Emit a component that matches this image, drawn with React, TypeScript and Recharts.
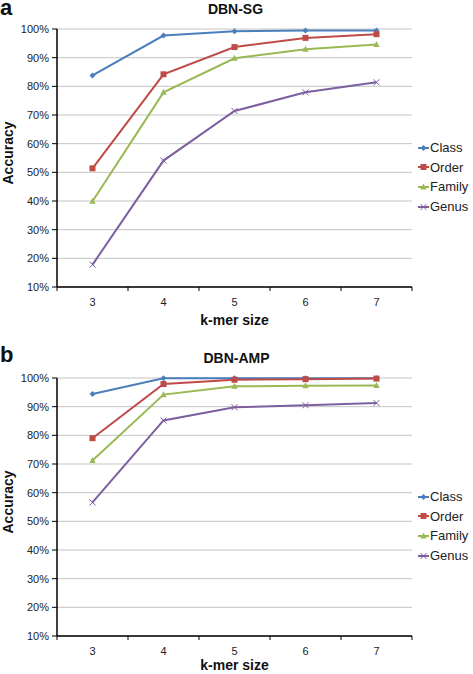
import React from "react";
import { LineChart, Line, XAxis, YAxis, CartesianGrid, Legend } from "recharts";

const KMER = [3, 4, 5, 6, 7];
const KMER_TICKS = [2.5, 3, 3.5, 4, 4.5, 5, 5.5, 6, 6.5, 7, 7.5];
const Y_TICKS = [10, 20, 30, 40, 50, 60, 70, 80, 90, 100];
const SERIES = ["Class", "Order", "Family", "Genus"];
const COLORS = ["#4A7EBB", "#BE4B48", "#98B954", "#7D5FA0"];

// DBN-SG accuracy (%)
const SG_CLASS = [83.8, 97.7, 99.2, 99.5, 99.5];
const SG_ORDER = [51.4, 84.2, 93.7, 96.9, 98.2];
const SG_FAMILY = [39.9, 77.9, 89.8, 92.9, 94.6];
const SG_GENUS = [17.8, 54.1, 71.4, 77.9, 81.4];

// DBN-AMP accuracy (%)
const AMP_CLASS = [94.4, 99.9, 99.9, 99.9, 99.9];
const AMP_ORDER = [79.0, 97.9, 99.4, 99.6, 99.8];
const AMP_FAMILY = [71.2, 94.2, 97.1, 97.3, 97.4];
const AMP_GENUS = [56.6, 85.2, 89.8, 90.5, 91.3];

const FONT = "'Liberation Sans', Arial, sans-serif";

function buildRows(cls: number[], ord: number[], fam: number[], gen: number[]) {
  return KMER.map((k, i) => ({
    k,
    Class: cls[i],
    Order: ord[i],
    Family: fam[i],
    Genus: gen[i],
  }));
}

const sgData = buildRows(SG_CLASS, SG_ORDER, SG_FAMILY, SG_GENUS);
const ampData = buildRows(AMP_CLASS, AMP_ORDER, AMP_FAMILY, AMP_GENUS);

function Marker({ name, cx, cy, color }: { name: string; cx: number; cy: number; color: string }) {
  if (cx == null || cy == null) return null;
  if (name === "Class") {
    const r = 3;
    return <path d={`M${cx},${cy - r}L${cx + r},${cy}L${cx},${cy + r}L${cx - r},${cy}Z`} fill={color} />;
  }
  if (name === "Order") {
    return <rect x={cx - 3} y={cy - 3} width={6} height={6} fill={color} />;
  }
  if (name === "Family") {
    return <path d={`M${cx},${cy - 3.5}L${cx + 3.2},${cy + 2.5}L${cx - 3.2},${cy + 2.5}Z`} fill={color} />;
  }
  return (
    <path
      d={`M${cx - 3},${cy - 3}L${cx + 3},${cy + 3}M${cx - 3},${cy + 3}L${cx + 3},${cy - 3}`}
      stroke={color}
      strokeWidth={1}
    />
  );
}

// integer ticks get a label, half-step ticks get a tick mark on the category boundary
function KmerTick(props: any) {
  const { x, y, payload } = props;
  const v = payload.value;
  if (Number.isInteger(v)) {
    return (
      <text x={x} y={y} dy="0.71em" textAnchor="middle" fontSize={11} fill="#222" fontFamily={FONT}>
        {v}
      </text>
    );
  }
  return <line x1={x} x2={x} y1={y - 11} y2={y - 7} stroke="#000" strokeWidth={1} />;
}

function LegendBox() {
  return (
    <div style={{ fontFamily: FONT, fontSize: 13, color: "#222" }}>
      {SERIES.map((s, i) => (
        <div key={s} style={{ display: "flex", alignItems: "center", height: 19.6 }}>
          <svg width={11} height={10} style={{ marginRight: 1 }}>
            <line x1={0} x2={11} y1={5} y2={5} stroke={COLORS[i]} strokeWidth={2} />
            <Marker name={s} cx={5.5} cy={5} color={COLORS[i]} />
          </svg>
          <span>{s}</span>
        </div>
      ))}
    </div>
  );
}

function Panel({
  data,
  height,
  top,
  legendTop,
  labelGap,
}: {
  data: any[];
  height: number;
  top: number;
  legendTop: number;
  labelGap: number;
}) {
  const xHeight = height - top - 258;
  return (
    <LineChart width={473} height={height} data={data} margin={{ top, right: 61, left: 0, bottom: 0 }}>
      <CartesianGrid horizontal vertical={false} stroke="#C4C4C4" strokeWidth={1} />
      <XAxis
        dataKey="k"
        type="number"
        domain={[2.5, 7.5]}
        ticks={KMER_TICKS}
        interval={0}
        height={xHeight}
        tickLine={false}
        tickSize={3}
        tickMargin={8}
        tick={<KmerTick />}
        axisLine={{ stroke: "#000", strokeWidth: 1.5 }}
        label={(p: any) => {
          const vb = p.viewBox;
          return (
            <text
              x={vb.x + vb.width / 2}
              y={vb.y + labelGap}
              textAnchor="middle"
              fontSize={14}
              fontWeight="bold"
              fill="#111"
              fontFamily={FONT}
            >
              k-mer size
            </text>
          );
        }}
      />
      <YAxis
        type="number"
        domain={[10, 100]}
        ticks={Y_TICKS}
        interval={0}
        width={57}
        tickSize={5}
        tickMargin={3}
        tickFormatter={(v) => `${v}%`}
        tick={{ fontSize: 11, fill: "#222", fontFamily: FONT }}
        tickLine={{ stroke: "#000" }}
        axisLine={{ stroke: "#000", strokeWidth: 1.5 }}
        label={(p: any) => {
          const vb = p.viewBox;
          const cy = vb.y + vb.height / 2 - 5;
          return (
            <text
              x={13}
              y={cy}
              transform={`rotate(-90 13 ${cy})`}
              textAnchor="middle"
              fontSize={14}
              fontWeight="bold"
              fill="#111"
              fontFamily={FONT}
            >
              Accuracy
            </text>
          );
        }}
      />
      <Legend
        layout="vertical"
        align="center"
        verticalAlign="middle"
        content={() => <LegendBox />}
        wrapperStyle={{ left: 418, top: legendTop, width: 60 }}
      />
      {SERIES.map((s, i) => (
        <Line
          key={s}
          dataKey={s}
          stroke={COLORS[i]}
          strokeWidth={2}
          isAnimationActive={false}
          dot={(p: any) => <Marker key={`${s}-${p.index}`} name={s} cx={p.cx} cy={p.cy} color={COLORS[i]} />}
          activeDot={false}
        />
      ))}
    </LineChart>
  );
}

const titleStyle: React.CSSProperties = {
  position: "absolute",
  fontFamily: FONT,
  fontWeight: "bold",
  fontSize: 14,
  lineHeight: "16px",
  color: "#111",
  width: 473,
  textAlign: "center",
  left: 0,
};

const letterStyle: React.CSSProperties = {
  position: "absolute",
  left: 0,
  fontFamily: FONT,
  fontWeight: "bold",
  fontSize: 22,
  lineHeight: "22px",
  color: "#111",
};

export default function App() {
  return (
    <div style={{ position: "absolute", left: 0, top: 0, width: 473, height: 674, background: "#fff", overflow: "hidden" }}>
      <div style={{ position: "absolute", left: 0, top: 0 }}>
        <Panel data={sgData} height={330} top={29} legendTop={138} labelGap={37.5} />
      </div>
      <div style={{ position: "absolute", left: 0, top: 330 }}>
        <Panel data={ampData} height={344} top={48} legendTop={157} labelGap={34} />
      </div>
      <div style={{ ...titleStyle, top: 1, marginLeft: -1 }}>DBN-SG</div>
      <div style={{ ...titleStyle, top: 350 }}>DBN-AMP</div>
      <div style={{ ...letterStyle, top: -3 }}>a</div>
      <div style={{ ...letterStyle, top: 344 }}>b</div>
    </div>
  );
}
